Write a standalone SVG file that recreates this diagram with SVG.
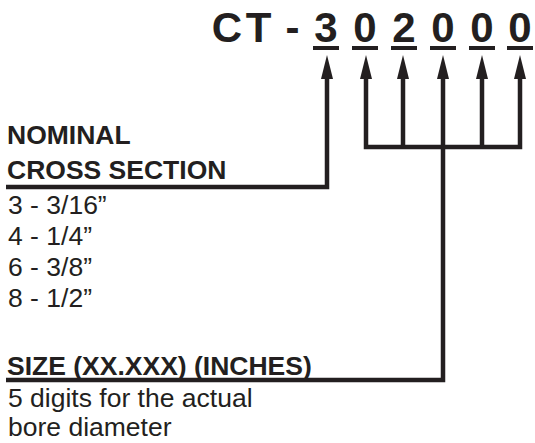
<svg xmlns="http://www.w3.org/2000/svg" width="535" height="443" viewBox="0 0 535 443">
<style>
.t{font-family:"Liberation Sans",Arial,sans-serif;fill:#231f20}
.big{font-size:42px;font-weight:bold;text-anchor:middle}
.b{font-size:26.5px;font-weight:bold}
.r{font-size:26.5px}
.ul{fill:#231f20}
.c{fill:none;stroke:#231f20;stroke-width:4.5;stroke-linejoin:miter}
</style>
<defs>
<marker id="ah" markerUnits="userSpaceOnUse" markerWidth="24" markerHeight="12" viewBox="0 0 24 12" refX="1" refY="6" orient="auto-start-reverse">
<path d="M0,0 L24,6 L0,12 Z" fill="#231f20"/>
</marker>
</defs>
<rect width="535" height="443" fill="#ffffff"/>
<g id="title">
<text class="t big" x="227" y="42">C</text>
<text class="t big" x="258.5" y="42">T</text>
<text class="t big" x="292.5" y="42">-</text>
<text class="t big" x="326" y="42">3</text>
<text class="t big" x="365" y="42">0</text>
<text class="t big" x="404" y="42">2</text>
<text class="t big" x="443" y="42">0</text>
<text class="t big" x="482" y="42">0</text>
<text class="t big" x="520" y="42">0</text>
<rect class="ul" x="313" y="46" width="26" height="4"/>
<rect class="ul" x="352" y="46" width="26" height="4"/>
<rect class="ul" x="391" y="46" width="26" height="4"/>
<rect class="ul" x="430" y="46" width="26" height="4"/>
<rect class="ul" x="469" y="46" width="26" height="4"/>
<rect class="ul" x="507" y="46" width="26" height="4"/>
</g>
<g id="cross-section">
<text class="t b" x="7" y="144">NOMINAL</text>
<text class="t b" x="7" y="179">CROSS SECTION</text>
<text class="t r" x="8" y="214">3 - 3/16”</text>
<text class="t r" x="8" y="245">4 - 1/4”</text>
<text class="t r" x="8" y="276">6 - 3/8”</text>
<text class="t r" x="8" y="307">8 - 1/2”</text>
</g>
<g id="size">
<text class="t b" x="7" y="375">SIZE (XX.XXX) (INCHES)</text>
<text class="t r" x="8" y="407">5 digits for the actual</text>
<text class="t r" x="8" y="436">bore diameter</text>
</g>
<g id="connectors">
<path class="c" d="M6,187 H327 V78" marker-end="url(#ah)"/>
<path class="c" d="M6,380 H443 V78" marker-end="url(#ah)"/>
<path class="c" d="M366,78 V147 H520 V78" marker-start="url(#ah)" marker-end="url(#ah)"/>
<path class="c" d="M403,147 V78" marker-end="url(#ah)"/>
<path class="c" d="M482,147 V78" marker-end="url(#ah)"/>
</g>
</svg>
